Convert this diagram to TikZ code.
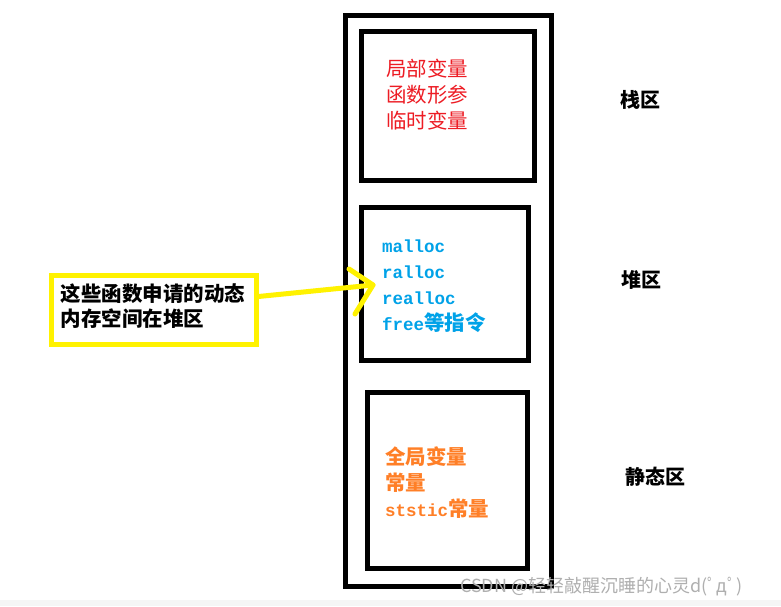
\documentclass[tikz,border=0pt]{standalone}
\usepackage{fontspec}
\newfontfamily\cjk{Noto Sans CJK SC}
\newfontfamily\mono{Liberation Mono}
\definecolor{pred}{RGB}{237,28,36}
\definecolor{pblue}{RGB}{0,162,232}
\definecolor{porange}{RGB}{255,127,39}
\definecolor{pyellow}{RGB}{255,242,0}
\definecolor{wm}{RGB}{175,175,175}
\tikzset{
  frame/.style={draw=black, line width=5pt, fill=none},
  txt/.style={inner sep=0pt, anchor=west, align=left},
  lbl/.style={inner sep=0pt, font=\cjk\bfseries\fontsize{20}{24}\selectfont},
  yel/.style={draw=pyellow, line width=5pt},
}
\begin{document}
\begin{tikzpicture}[x=1pt,y=-1pt]
\useasboundingbox (0,0) rectangle (781,606);
\fill[white] (0,0) rectangle (781,606);
\fill[black!4] (0,600) rectangle (781,606);
% outer frame
\draw[frame] (345.5,15.5) rectangle (551.5,586);
% inner boxes
\draw[frame] (361.5,31.5) rectangle (534.5,180.5);
\draw[frame] (361.7,207.5) rectangle (528.3,360);
\draw[frame] (367.5,392) rectangle (527.5,568);
% texts
\node[txt, text=pred, font=\cjk\fontsize{20.5}{26}\selectfont] (stack) at (386,95)
  {局部变量\\函数形参\\临时变量};
\node[txt, text=pblue, font=\mono\bfseries\fontsize{17.5}{26}\selectfont] (heap) at (382,286)
  {malloc\\ralloc\\realloc\\free{\cjk\fontsize{20.5}{26}\selectfont 等指令}};
\node[txt, text=porange, font=\cjk\bfseries\fontsize{20.5}{26}\selectfont] (static) at (385,483)
  {全局变量\\常量\\{\mono\bfseries\fontsize{17.5}{26}\selectfont ststic}常量};
% labels
\node[lbl] (l1) at (640,100) {栈区};
\node[lbl] (l2) at (641,280) {堆区};
\node[lbl] (l3) at (655,477) {静态区};
% yellow note
\draw[yel] (51.5,275) rectangle (256.3,344);
\node[txt, font=\cjk\bfseries\fontsize{20.5}{25}\selectfont] (note) at (60.5,306.5)
  {这些函数申请的动态\\内存空间在堆区};
\coordinate (ny) at (258.5,296.5);
\coordinate (tip) at (373,285);
\coordinate (arm1) at (349,269);
\coordinate (arm2) at (355,314);
\draw[yel, line cap=round] (ny) -- (tip);
\draw[yel, line cap=round, line join=round] (arm1) -- (tip) -- (arm2);
% watermark
\node[inner sep=0pt, anchor=west, text=wm, font=\cjk\fontsize{18}{20}\selectfont] (wmk) at (460,587)
  {CSDN @轻轻敲醒沉睡的心灵d(ﾟдﾟ)};
\end{tikzpicture}
\end{document}
